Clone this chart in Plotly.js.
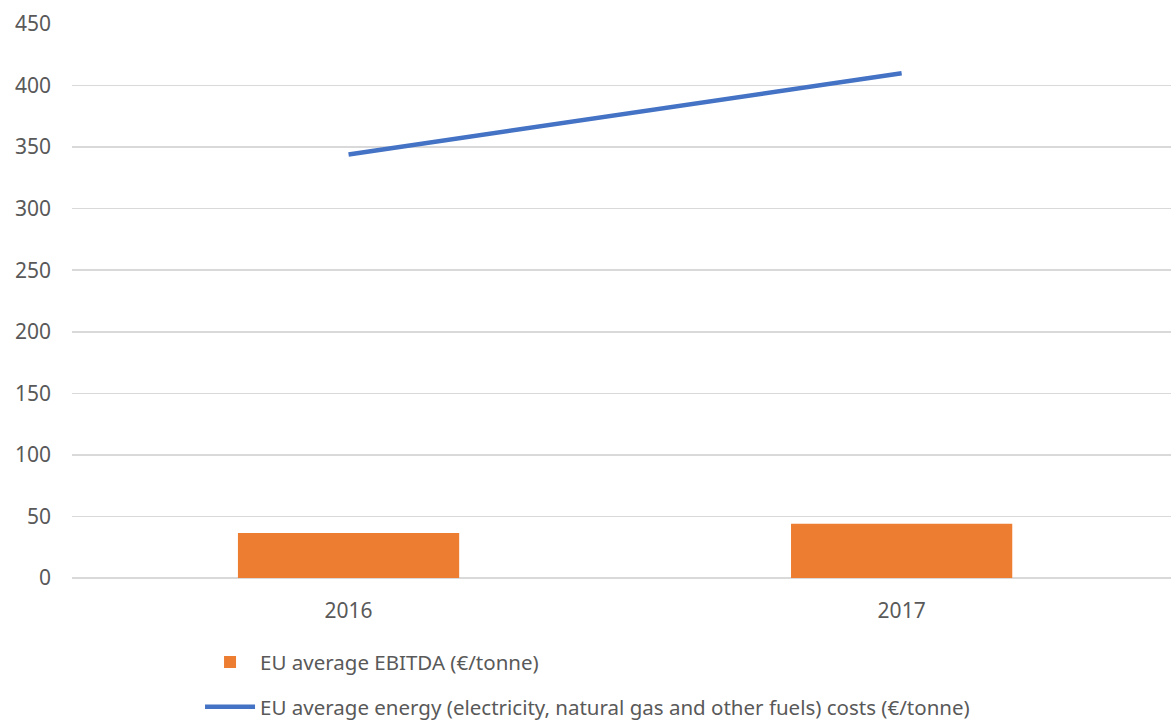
<!DOCTYPE html>
<html>
<head>
<meta charset="utf-8">
<script src="https://cdn.plot.ly/plotly-3.0.1.min.js"></script>
<style>html,body{margin:0;padding:0;background:#fff;}#chart{width:1171px;height:720px;}</style>
</head>
<body>
<div id="chart"></div>
<script>
const years = ['2016', '2017'];
const ebitda = [36.5, 44];
const energyCosts = [344, 410];
const yTicks = [0, 50, 100, 150, 200, 250, 300, 350, 400, 450];
const seriesNames = ['EU average EBITDA (€/tonne)', 'EU average energy (electricity, natural gas and other fuels) costs (€/tonne)'];

const font = {family: 'Noto Sans, Open Sans, sans-serif', size: 21, color: '#595959'};
const legendFont = {family: 'Noto Sans, Open Sans, sans-serif', size: 20.5, color: '#595959'};

const traces = [
  {type: 'bar', x: years, y: ebitda, name: seriesNames[0], marker: {color: '#ED7D31'}, width: 0.4, legendgroup: 'a', hoverinfo: 'x+y'},
  {type: 'scatter', mode: 'lines', x: years, y: energyCosts, name: seriesNames[1], line: {color: '#4472C4', width: 4.5}, legendgroup: 'b'}
];

const layout = {
  width: 1171, height: 720,
  margin: {l: 72, r: 0, t: 24, b: 142, autoexpand: false},
  paper_bgcolor: '#fff', plot_bgcolor: '#fff',
  font: font,
  showlegend: true,
  legend: {orientation: 'v', x: 0.1165, xanchor: 'left', y: -0.116, yanchor: 'top', traceorder: 'grouped', tracegroupgap: 15, font: legendFont, bgcolor: 'rgba(0,0,0,0)', itemwidth: 50},
  xaxis: {type: 'category', range: [-0.5, 1.487], showgrid: false, showline: false, zeroline: false, ticks: '', tickfont: font, ticklabelstandoff: 18, fixedrange: true},
  yaxis: {range: [0, 450], tickvals: yTicks, showgrid: true, gridcolor: '#D9D9D9', gridwidth: 1.5, zeroline: true, zerolinecolor: '#D9D9D9', zerolinewidth: 1.5, showline: false, ticks: '', tickfont: font, ticklabelstandoff: 20, fixedrange: true},
  bargap: 0.6
};

Plotly.newPlot('chart', traces, layout, {displayModeBar: false, staticPlot: true});
</script>
</body>
</html>
